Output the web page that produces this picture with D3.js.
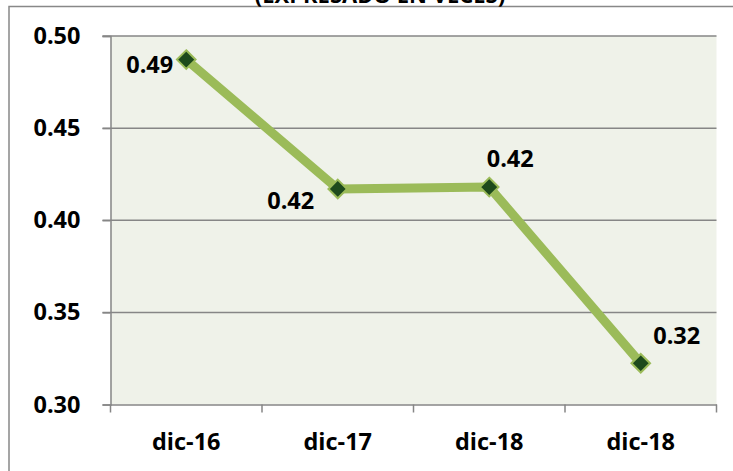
<!DOCTYPE html>
<html><head><meta charset="utf-8">
<script src="https://cdn.jsdelivr.net/npm/d3@7"></script>
<style>body{margin:0;background:#fff}svg{display:block}</style>
</head><body>
<svg id="c" width="733" height="471"></svg>
<script>
const categories = ["dic-16", "dic-17", "dic-18", "dic-18"];
const values = [0.4872, 0.417, 0.418, 0.3224];
const labels = ["0.49", "0.42", "0.42", "0.32"];
const yTicks = [0.30, 0.35, 0.40, 0.45, 0.50];
const title = "(EXPRESADO EN VECES)";

const svg = d3.select("#c");
const m = {left: 110.5, top: 36, right: 716.5, bottom: 404.5};
const font = "'Open Sans', Lato, sans-serif";
const fs = 23.5;

// outer border
svg.append("rect").attr("x", 9).attr("y", 6.5).attr("width", 740).attr("height", 480)
  .attr("fill", "#fff").attr("stroke", "#888").attr("stroke-width", 1.5);

svg.append("text").attr("x", 380).attr("y", 3).attr("text-anchor", "middle")
  .attr("font-family", font).attr("font-weight", "bold").attr("font-size", 22)
  .attr("fill", "#000").text(title);

const x = d3.scaleBand().domain(d3.range(categories.length)).range([m.left, m.right]);
const y = d3.scaleLinear().domain([0.30, 0.50]).range([m.bottom, m.top]);

svg.append("rect").attr("x", m.left).attr("y", m.top)
  .attr("width", m.right - m.left).attr("height", m.bottom - m.top).attr("fill", "#EFF2E9");

// gridlines
svg.append("g").selectAll("line").data(yTicks.filter(t => t > 0.30)).join("line")
  .attr("x1", m.left - 8).attr("x2", m.right)
  .attr("y1", d => y(d)).attr("y2", d => y(d))
  .attr("stroke", "#868686").attr("stroke-width", 1.5);

// y axis
const yAxis = svg.append("g").attr("transform", `translate(${m.left},0)`)
  .call(d3.axisLeft(y).tickValues(yTicks).tickFormat(d3.format(".2f")).tickSize(8).tickPadding(22));
yAxis.select(".domain").attr("stroke", "#868686").attr("stroke-width", 1.5);
yAxis.selectAll(".tick line").attr("stroke", "#868686").attr("stroke-width", 1.5);
yAxis.selectAll("text").attr("font-family", font).attr("font-weight", "bold")
  .attr("font-size", fs).attr("fill", "#000");

// x axis
const xAxis = svg.append("g").attr("transform", `translate(0,${m.bottom})`)
  .call(d3.axisBottom(x).tickFormat(i => categories[i]).tickSize(0).tickPadding(29));
xAxis.select(".domain").attr("stroke", "#868686").attr("stroke-width", 1.5);
xAxis.selectAll("text").attr("font-family", font).attr("font-weight", "bold")
  .attr("font-size", fs).attr("fill", "#000");
svg.append("g").selectAll("line").data(d3.range(categories.length + 1)).join("line")
  .attr("x1", i => m.left + i * x.step()).attr("x2", i => m.left + i * x.step())
  .attr("y1", m.bottom).attr("y2", m.bottom + 8)
  .attr("stroke", "#868686").attr("stroke-width", 1.5);

const cx = i => x(i) + x.bandwidth() / 2;

svg.append("path").datum(values)
  .attr("d", d3.line().x((d, i) => cx(i)).y(d => y(d)))
  .attr("fill", "none").attr("stroke", "#9BBB59").attr("stroke-width", 9)
  .attr("stroke-linejoin", "round");

svg.append("g").selectAll("path").data(values).join("path")
  .attr("d", d3.symbol().type(d3.symbolDiamond2).size(220))
  .attr("transform", (d, i) => `translate(${cx(i)},${y(d)})`)
  .attr("fill", "#1D4A1C").attr("stroke", "#9BBB59").attr("stroke-width", 2);

const offs = [[-36.5, 13.5], [-47, 20], [21, -20.5], [36, -19]];
svg.append("g").selectAll("text").data(values).join("text")
  .attr("x", (d, i) => cx(i) + offs[i][0]).attr("y", (d, i) => y(d) + offs[i][1])
  .attr("text-anchor", "middle")
  .attr("font-family", font).attr("font-weight", "bold").attr("font-size", fs)
  .attr("fill", "#000").text((d, i) => labels[i]);
</script>
</body></html>
